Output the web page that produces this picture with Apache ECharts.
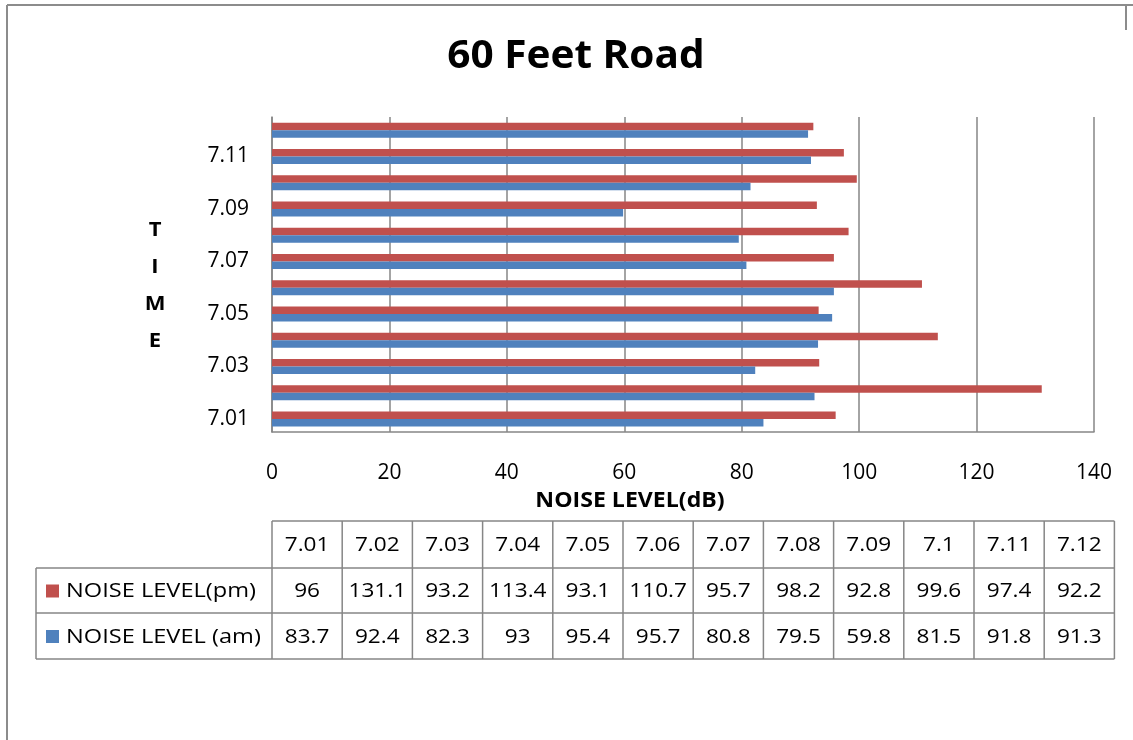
<!DOCTYPE html>
<html><head><meta charset="utf-8">
<script src="https://cdn.jsdelivr.net/npm/echarts@6/dist/echarts.min.js"></script>
<style>html,body{margin:0;padding:0;background:#fff}#c{width:1133px;height:740px}</style>
</head><body><div id="c"></div>
<script>
const categories = ['7.01','7.02','7.03','7.04','7.05','7.06','7.07','7.08','7.09','7.1','7.11','7.12'];
const pmValues = [96,131.1,93.2,113.4,93.1,110.7,95.7,98.2,92.8,99.6,97.4,92.2];
const amValues = [83.7,92.4,82.3,93,95.4,95.7,80.8,79.5,59.8,81.5,91.8,91.3];
const pmName = 'NOISE LEVEL(pm)';
const amName = 'NOISE LEVEL (am)';
const xTicks = [0,20,40,60,80,100,120,140];

const FONT = '"Open Sans", "Noto Sans", sans-serif';
const RED = '#C0504D', BLUE = '#4F81BD', GRID = '#868686';
const chart = echarts.init(document.getElementById('c'));

const tX0 = 272, colW = 70.2, tLeft = 36, rows = [521, 568, 613, 659];
const SX = 1.13;
const g = [];
g.push({type:'line', shape:{x1:7,y1:5,x2:1133,y2:5}, style:{stroke:'#8c8c8c', lineWidth:2}, silent:true});
g.push({type:'line', shape:{x1:7,y1:5,x2:7,y2:740}, style:{stroke:'#8c8c8c', lineWidth:2}, silent:true});
g.push({type:'line', shape:{x1:1126,y1:5,x2:1126,y2:30}, style:{stroke:'#8c8c8c', lineWidth:2}, silent:true});
g.push({type:'text', x:155, y:212, scaleX:1.1, style:{text:'T\nI\nM\nE', font:'bold 20px '+FONT, fill:'#000', lineHeight:37, align:'center'}});
g.push({type:'text', x:630, y:501, scaleX:1.1, style:{text:'NOISE LEVEL(dB)', font:'bold 21px '+FONT, fill:'#000', align:'center', verticalAlign:'middle'}});
g.push({type:'text', x:576, y:57, scaleX:1.04, style:{text:'60 Feet Road', font:'bold 39px '+FONT, fill:'#000', align:'center', verticalAlign:'middle'}});
const tRight = tX0 + colW*categories.length;
g.push({type:'line', shape:{x1:tX0,y1:rows[0],x2:tRight,y2:rows[0]}, style:{stroke:GRID,lineWidth:1.5}});
for (let r=1;r<rows.length;r++) g.push({type:'line', shape:{x1:tLeft,y1:rows[r],x2:tRight,y2:rows[r]}, style:{stroke:GRID,lineWidth:1.5}});
g.push({type:'line', shape:{x1:tLeft,y1:rows[1],x2:tLeft,y2:rows[3]}, style:{stroke:GRID,lineWidth:1.5}});
for (let i=0;i<=categories.length;i++){
  const x = tX0 + colW*i;
  g.push({type:'line', shape:{x1:x,y1:rows[0],x2:x,y2:rows[3]}, style:{stroke:GRID,lineWidth:1.5}});
}
const rowData = [categories, pmValues.map(String), amValues.map(String)];
for (let r=0;r<3;r++){
  const yc = (rows[r]+rows[r+1])/2 + 1;
  rowData[r].forEach((t,i)=>{
    g.push({type:'text', x:tX0+colW*i+colW/2, y:yc, scaleX:SX, style:{text:t, font:'20px '+FONT, fill:'#000', align:'center', verticalAlign:'middle'}});
  });
}
[[pmName,RED],[amName,BLUE]].forEach((s,k)=>{
  const yc = (rows[k+1]+rows[k+2])/2;
  g.push({type:'rect', shape:{x:46,y:yc-6,width:13,height:13}, style:{fill:s[1]}});
  g.push({type:'text', x:66, y:yc+1, scaleX:1.18, style:{text:s[0], font:'20px '+FONT, fill:'#000', align:'left', verticalAlign:'middle'}});
});

chart.setOption({
  animation:false,
  backgroundColor:'#fff',
  grid:{left:272, right:39, top:117, bottom:308, containLabel:false},
  xAxis:{type:'value', min:xTicks[0], max:xTicks[xTicks.length-1], interval:20,
    axisLine:{show:true, lineStyle:{color:GRID, width:1.5}}, axisTick:{show:false},
    axisLabel:{color:'#000', fontFamily:FONT, fontSize:21, margin:31},
    splitLine:{show:true, lineStyle:{color:GRID, width:1.5}}},
  yAxis:{type:'category', data:categories,
    axisLine:{show:true, lineStyle:{color:GRID, width:1.5}}, axisTick:{show:false},
    axisLabel:{color:'#000', fontFamily:FONT, fontSize:21, interval:1, margin:23}},
  series:[
    {name:pmName, type:'bar', data:pmValues, barWidth:7.5, barGap:'0%', itemStyle:{color:RED}},
    {name:amName, type:'bar', data:amValues, barWidth:7.5, barGap:'0%', itemStyle:{color:BLUE}}
  ],
  graphic:g
});
</script></body></html>
